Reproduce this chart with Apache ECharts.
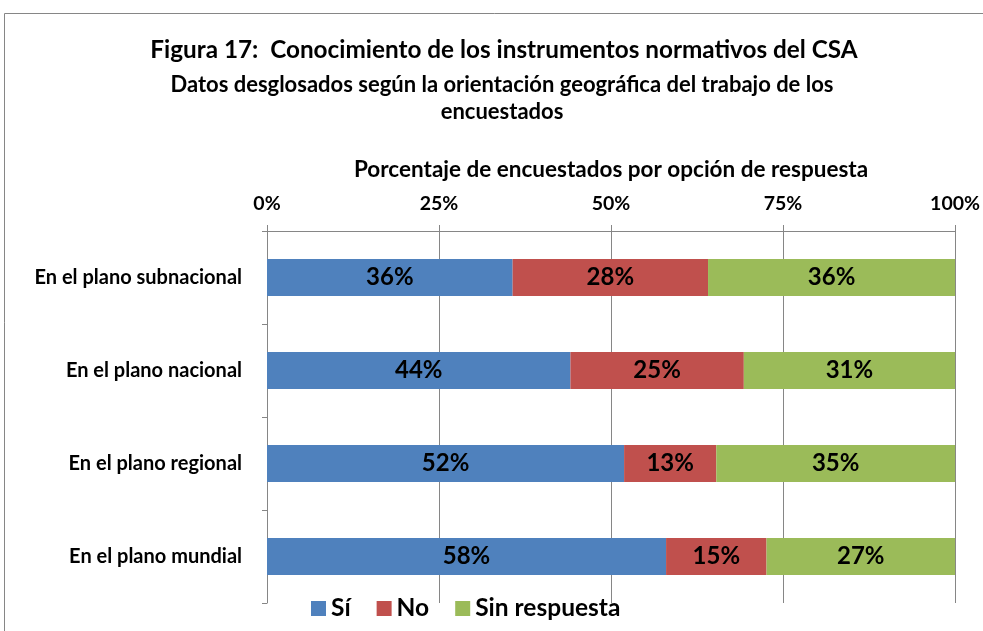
<!DOCTYPE html>
<html>
<head>
<meta charset="utf-8">
<script src="https://cdn.jsdelivr.net/npm/echarts@6/dist/echarts.min.js"></script>
<style>
html,body{margin:0;padding:0;background:#fff;}
#main{width:983px;height:631px;}
</style>
</head>
<body>
<div id="main"></div>
<script>
// categorias y valores (porcentaje)
var categories = ['En el plano subnacional', 'En el plano nacional', 'En el plano regional', 'En el plano mundial'];
var si = [35.7, 44.1, 51.9, 58.0];
var no = [28.4, 25.2, 13.4, 14.6];
var sinRespuesta = [35.9, 30.7, 34.7, 27.4];
var seriesNames = ['Sí', 'No', 'Sin respuesta'];
var colors = ['#4F81BD', '#C0504D', '#9BBB59'];

var font = 'Lato, "Open Sans", sans-serif';

var myChart = echarts.init(document.getElementById('main'));

function barSerie(name, data, color){
    return {
        name: name,
        type: 'bar',
        stack: 'total',
        barWidth: 37,
        data: data,
        itemStyle: {color: color},
        label: {
            show: true,
            position: 'inside',
            color: '#000',
            fontFamily: font,
            fontWeight: 'bold',
            fontSize: 24,
            formatter: function(p){ return Math.round(p.value) + '%'; }
        }
    };
}

var option = {
    backgroundColor: '#fff',
    animation: false,
    textStyle: {fontFamily: font},
    title: [
        {
            text: 'Figura 17:  Conocimiento de los instrumentos normativos del CSA',
            left: 504, top: 38, textAlign: 'center', padding: 0,
            textStyle: {fontFamily: font, fontSize: 24.3, fontWeight: 'bold', color: '#000'}
        },
        {
            text: 'Datos desglosados según la orientación geográfica del trabajo de los\nencuestados',
            left: 502, top: 71, textAlign: 'center', padding: 0,
            textStyle: {fontFamily: font, fontSize: 22, fontWeight: 'bold', color: '#000', lineHeight: 27}
        }
    ],
    legend: {
        left: 311, top: 596, padding: 0,
        itemWidth: 15, itemHeight: 15, itemGap: 26,
        icon: 'rect',
        data: seriesNames,
        textStyle: {fontFamily: font, fontSize: 24.5, fontWeight: 'bold', color: '#000'}
    },
    grid: {left: 267, right: 26, top: 231, bottom: 28},
    xAxis: {
        type: 'value',
        position: 'top',
        min: 0, max: 100, interval: 25,
        name: 'Porcentaje de encuestados por opción de respuesta',
        nameLocation: 'middle',
        nameGap: 50,
        nameTextStyle: {fontFamily: font, fontSize: 22.5, fontWeight: 'bold', color: '#000'},
        axisLine: {show: true, lineStyle: {color: '#868686'}},
        axisTick: {show: true, length: 6, lineStyle: {color: '#868686'}},
        axisLabel: {formatter: '{value}%', color: '#000', fontFamily: font, fontSize: 19.5, fontWeight: 'bold', margin: 17},
        splitLine: {show: true, lineStyle: {color: '#868686'}}
    },
    yAxis: {
        type: 'category',
        inverse: true,
        data: categories,
        axisLine: {show: true, lineStyle: {color: '#868686'}},
        axisTick: {show: true, length: 5, lineStyle: {color: '#868686'}},
        axisLabel: {color: '#000', fontFamily: font, fontSize: 20, fontWeight: 'bold', margin: 25}
    },
    graphic: [
        {
            type: 'rect',
            shape: {x: 4.5, y: 13.5, width: 1000, height: 700},
            style: {fill: null, stroke: '#868686', lineWidth: 1},
            silent: true
        }
    ],
    series: [
        barSerie(seriesNames[0], si, colors[0]),
        barSerie(seriesNames[1], no, colors[1]),
        barSerie(seriesNames[2], sinRespuesta, colors[2])
    ]
};
myChart.setOption(option);
</script>
</body>
</html>
